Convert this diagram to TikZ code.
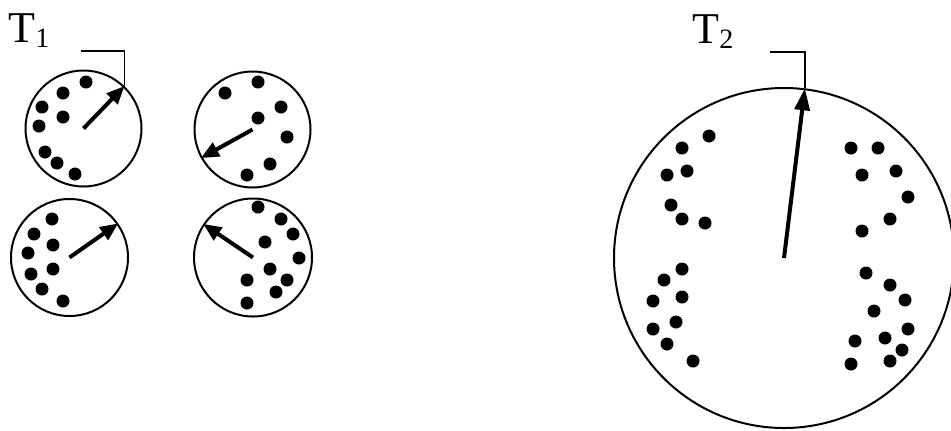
\documentclass[tikz,border=0pt]{standalone}
\usepackage{fontspec}
\setmainfont{Liberation Serif}
\usetikzlibrary{arrows.meta}
\newcommand{\tsub}[1]{\raisebox{-2.5pt}{\fontsize{14}{15}\selectfont #1}}

\begin{document}
\begin{tikzpicture}[
  x=0.5pt,y=-0.5pt,
  ring/.style={draw,circle,line width=1pt,inner sep=0pt},
  spin/.style={-{Triangle[length=9pt,width=7.5pt]},line width=2pt},
  bigspin/.style={-{Triangle[length=11pt,width=7.5pt]},line width=2pt},
  hook/.style={line width=0.8pt},
  lbl/.style={font=\fontsize{22}{26}\selectfont,inner sep=0pt,anchor=base west},
]
\useasboundingbox (0,0) rectangle (951,430);
\node[ring,minimum size=58pt] (c1) at (83.5,128.5) {};
\node[ring,minimum size=58pt] (c2) at (252.5,129.5) {};
\node[ring,minimum size=58.5pt] (c3) at (69.5,257.5) {};
\node[ring,minimum size=59pt] (c4) at (253,257.5) {};
\node[ring,minimum size=170pt] (big) at (784,258) {};
\node[lbl] (t1) at (8,42) {T\tsub{1}};
\node[lbl] (t2) at (692,43) {T\tsub{2}};
\coordinate (b1) at (81,51);
\coordinate (b2) at (770,52);
\foreach \x/\y in {86/82,63/93,42/107,63/117,39/126,45/152,57/163,75/174,
  225/93,258/82,281/107,258/118,287/137,270/164,247/175,
  52/219,34/234,53/245,28/253,53/269,31/274,42/289,63/301,
  258/207,281/219,293/234,265/242,299/258,270/269,287/280,247/280,276/292,247/303}
  \fill (\x,\y) circle (6.5);
\foreach \x/\y in {709/136,682/148,687/171,667/175,671/205,682/219,705/223,
  851/148,878/148,862/175,896/171,908/197,890/219,862/231,
  682/269,664/280,682/297,653/301,676/322,653/329,667/344,693/361,
  866/273,890/285,905/300,874/311,908/329,885/338,855/341,902/350,890/361,851/364}
  \fill (\x,\y) circle (6.5);
\draw[spin] (c1.center) -- (c1.46);
\draw[spin] (c2.center) -- (c2.209);
\draw[spin] (c3.center) -- (c3.35);
\draw[spin] (c4.center) -- (c4.146);
\draw[bigspin] (big.center) -- (big.83);
\draw[hook] (b1) -| (c1.46);
\draw[hook] (b2) -| (big.83);
\end{tikzpicture}
\end{document}
